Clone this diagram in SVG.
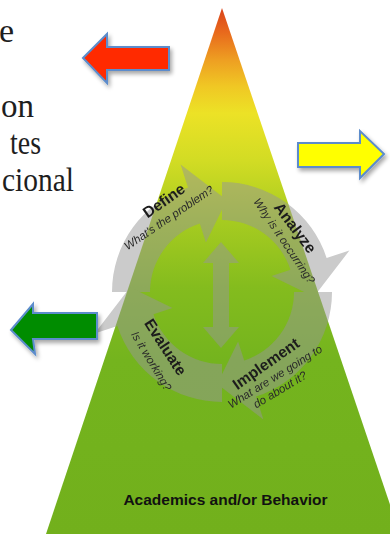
<svg xmlns="http://www.w3.org/2000/svg" xmlns:xlink="http://www.w3.org/1999/xlink" width="390" height="534" viewBox="0 0 390 534">
<style>
.side{font-family:"Liberation Serif","Times New Roman",serif;font-size:34px;fill:#1e1e1e;text-anchor:end}
.ttl{font-family:"Liberation Sans",Arial,sans-serif;font-size:15.5px;font-weight:bold;fill:#1c1c1c;text-anchor:middle}
.sub{font-family:"Liberation Sans",Arial,sans-serif;font-size:11.5px;font-style:italic;fill:#2a2a2a;text-anchor:middle}
.base{font-family:"Liberation Sans",Arial,sans-serif;font-size:15.5px;font-weight:bold;fill:#111;text-anchor:middle}
.blk{stroke:#5b8ccc;stroke-width:2;stroke-linejoin:miter;filter:url(#sh)}
.cyc{fill:#969696}
</style>
<defs>
<linearGradient id="tri" gradientUnits="userSpaceOnUse" x1="0" y1="8" x2="0" y2="534">
<stop offset="0" stop-color="#d9431a"/>
<stop offset="0.045" stop-color="#e8681c"/>
<stop offset="0.10" stop-color="#eea022"/>
<stop offset="0.15" stop-color="#f0c824"/>
<stop offset="0.20" stop-color="#ece226"/>
<stop offset="0.29" stop-color="#d2dc24"/>
<stop offset="0.40" stop-color="#a8cc20"/>
<stop offset="0.53" stop-color="#84bc1e"/>
<stop offset="0.67" stop-color="#74b41e"/>
<stop offset="1" stop-color="#72b01c"/>
</linearGradient>
<filter id="sh" x="-20%" y="-30%" width="150%" height="170%">
<feGaussianBlur in="SourceAlpha" stdDeviation="2"/>
<feOffset dx="2" dy="3" result="b"/>
<feComponentTransfer><feFuncA type="linear" slope="0.35"/></feComponentTransfer>
<feMerge><feMergeNode/><feMergeNode in="SourceGraphic"/></feMerge>
</filter>
<path id="arc" d="M110 0 A110 110 0 0 1 34 104.6 L41.4 127.4 L-4.8 91.9 L16.1 49.5 L22.2 68.5 A72 72 0 0 0 72 0 Z"/>
</defs>
<rect width="390" height="534" fill="#ffffff"/>
<g id="side-text">
<text class="side" x="14" y="42">e</text>
<text class="side" x="34" y="117" textLength="33" lengthAdjust="spacingAndGlyphs">on</text>
<text class="side" x="41" y="154" textLength="31" lengthAdjust="spacingAndGlyphs">tes</text>
<text class="side" x="74" y="191" textLength="72" lengthAdjust="spacingAndGlyphs">cional</text>
</g>
<g id="pyramid">
<polygon points="222,8 46,534 400,534" fill="url(#tri)"/>
</g>
<g id="connectors" opacity="0.5">
<use xlink:href="#arc" class="cyc" transform="translate(222,292) rotate(180)"/>
<use xlink:href="#arc" class="cyc" transform="translate(222,292) rotate(270)"/>
<use xlink:href="#arc" class="cyc" transform="translate(222,292)"/>
<use xlink:href="#arc" class="cyc" transform="translate(222,292) rotate(90)"/>
<polygon class="cyc" points="221,242 239,263 229,263 229,327 239,327 221,348 203,327 213,327 213,263 203,263"/>
</g>
<g id="node-define">
<text class="ttl" transform="translate(167,205) rotate(-35)">Define</text>
<text class="sub" transform="translate(171,221) rotate(-34)">What's the problem?</text>
</g>
<g id="node-analyze">
<text class="ttl" transform="translate(291,231) rotate(53)">Analyze</text>
<text class="sub" transform="translate(281,243) rotate(56)">Why is it occurring?</text>
</g>
<g id="node-implement">
<text class="ttl" transform="translate(269,368) rotate(-35)">Implement</text>
<text class="sub" transform="translate(277,380) rotate(-32)">What are we going to</text>
<text class="sub" transform="translate(282,393) rotate(-31)">do about it?</text>
</g>
<g id="node-evaluate">
<text class="ttl" transform="translate(161,350) rotate(57)">Evaluate</text>
<text class="sub" transform="translate(148,363) rotate(59)">Is it working?</text>
</g>
<g id="node-base">
<text class="base" x="225.5" y="505">Academics and/or Behavior</text>
</g>
<g id="arrow-red">
<polygon class="blk" fill="#ff2a00" points="83,58 107,34 107,47 169,47 169,70 107,70 107,83"/>
</g>
<g id="arrow-yellow">
<polygon class="blk" fill="#ffff00" points="298,143 360,143 360,131 384,154 360,178 360,167 298,167"/>
</g>
<g id="arrow-green">
<polygon class="blk" fill="#008c00" points="11,330 33,304 33,313 97,313 97,339 33,339 35,354"/>
</g>
</svg>
